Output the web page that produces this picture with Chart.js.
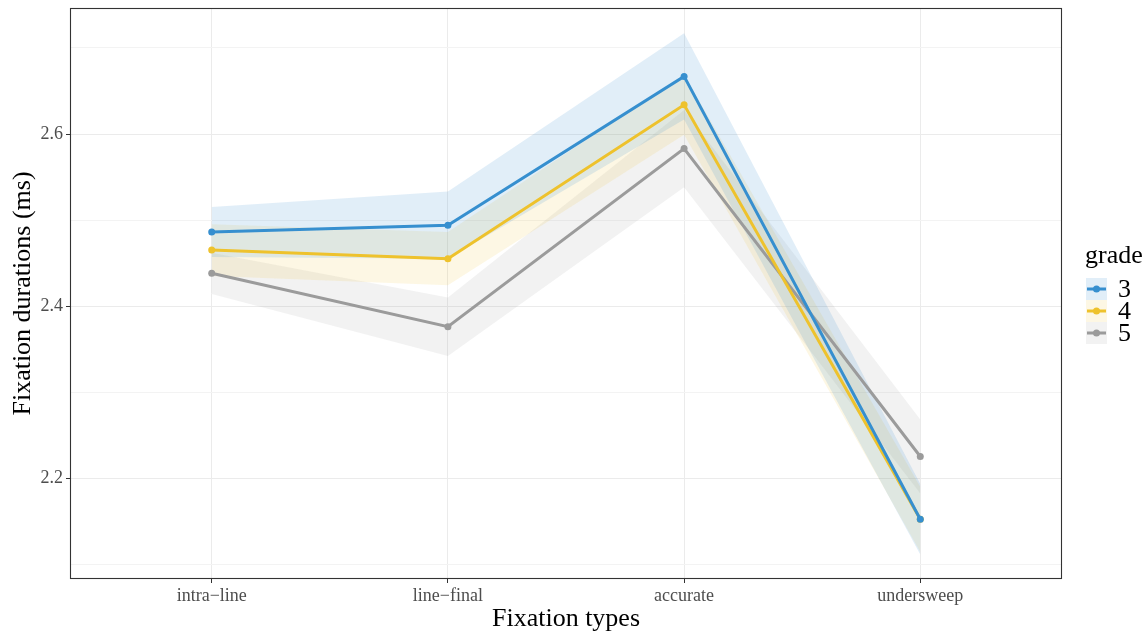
<!DOCTYPE html>
<html>
<head>
<meta charset="utf-8">
<script src="https://cdn.jsdelivr.net/npm/chart.js@4.4.1/dist/chart.umd.min.js"></script>
<style>
  html, body { margin: 0; padding: 0; background: #fff; }
  #wrap { width: 1148px; height: 635px; }
</style>
</head>
<body>
<div id="wrap"><canvas id="chart" width="1148" height="635"></canvas></div>
<script>
var categories = ['intra\u2212line', 'line\u2212final', 'accurate', 'undersweep'];
var grades = ['3', '4', '5'];

var grade3Mean = [2.486, 2.494, 2.667, 2.152];
var grade3Upper = [2.515, 2.533, 2.717, 2.193];
var grade3Lower = [2.457, 2.455, 2.617, 2.111];

var grade4Mean = [2.465, 2.455, 2.634, 2.152];
var grade4Upper = [2.495, 2.486, 2.669, 2.190];
var grade4Lower = [2.435, 2.424, 2.599, 2.114];

var grade5Mean = [2.438, 2.376, 2.583, 2.225];
var grade5Upper = [2.462, 2.410, 2.628, 2.268];
var grade5Lower = [2.414, 2.342, 2.538, 2.182];

var yMajorTicks = [2.2, 2.4, 2.6];
var yMinorTicks = [2.1, 2.3, 2.5, 2.7];

var lineColors = ['#368FCF', '#EEC22C', '#9B9B9B'];
var ribbonColors = ['rgba(54,143,207,0.15)', 'rgba(238,194,44,0.13)', 'rgba(150,150,150,0.12)'];

var serif = "'Liberation Serif', 'Times New Roman', serif";

function pts(arr) {
  return arr.map(function (v, i) { return { x: i, y: v }; });
}

var series = [
  { mean: grade3Mean, upper: grade3Upper, lower: grade3Lower },
  { mean: grade4Mean, upper: grade4Upper, lower: grade4Lower },
  { mean: grade5Mean, upper: grade5Upper, lower: grade5Lower }
];

var datasets = [];
series.forEach(function (s, k) {
  datasets.push({
    label: 'upper ' + grades[k], data: pts(s.upper),
    borderWidth: 0, pointRadius: 0, fill: '+1',
    backgroundColor: ribbonColors[k], borderColor: 'rgba(0,0,0,0)'
  });
  datasets.push({
    label: 'lower ' + grades[k], data: pts(s.lower),
    borderWidth: 0, pointRadius: 0, fill: false,
    borderColor: 'rgba(0,0,0,0)'
  });
});
series.forEach(function (s, k) {
  datasets.push({
    label: grades[k], data: pts(s.mean),
    borderColor: lineColors[k], backgroundColor: lineColors[k],
    borderWidth: 3, pointRadius: 3.5, pointBorderWidth: 0, fill: false
  });
});

var panelPlugin = {
  id: 'panel',
  afterDraw: function (chart) {
    var a = chart.chartArea, c = chart.ctx;
    c.save();
    c.strokeStyle = '#333333';
    c.lineWidth = 1.1;
    c.strokeRect(a.left + 0.5, a.top + 0.5, a.right - a.left - 1, a.bottom - a.top - 1);

    // legend
    c.fillStyle = '#000';
    c.font = '26px ' + serif;
    c.textAlign = 'left';
    c.textBaseline = 'middle';
    c.fillText('grade', 1085, 256);
    grades.forEach(function (g, k) {
      var y0 = 278 + k * 22;
      c.fillStyle = '#ffffff';
      c.fillRect(1086, y0, 21, 22);
      c.fillStyle = ribbonColors[k];
      c.fillRect(1086, y0, 21, 22);
      c.strokeStyle = lineColors[k];
      c.lineWidth = 3;
      c.beginPath();
      c.moveTo(1087, y0 + 11);
      c.lineTo(1106, y0 + 11);
      c.stroke();
      c.fillStyle = lineColors[k];
      c.beginPath();
      c.arc(1096.5, y0 + 11, 3.5, 0, Math.PI * 2);
      c.fill();
      c.fillStyle = '#000';
      c.font = '26px ' + serif;
      c.fillText(g, 1118, y0 + 12);
    });
    c.restore();
  }
};

new Chart(document.getElementById('chart').getContext('2d'), {
  type: 'line',
  data: { datasets: datasets },
  plugins: [panelPlugin],
  options: {
    responsive: false,
    animation: false,
    layout: { padding: { left: 0, right: 86, top: 8, bottom: 0 } },
    elements: { line: { tension: 0 } },
    plugins: {
      legend: { display: false },
      tooltip: { enabled: false },
      filler: { drawTime: 'beforeDatasetsDraw' }
    },
    scales: {
      x: {
        type: 'linear', min: -0.6, max: 3.6,
        afterBuildTicks: function (scale) {
          scale.ticks = categories.map(function (c, i) { return { value: i }; });
        },
        afterFit: function (scale) {
          scale.height = 56;
          scale.paddingLeft = 0; scale.paddingRight = 0;
        },
        border: { display: false },
        grid: { color: '#EBEBEB', lineWidth: 1, tickLength: 4, tickColor: '#333333' },
        ticks: {
          autoSkip: false, maxRotation: 0, padding: 2,
          color: '#4D4D4D', font: { family: serif, size: 18 },
          callback: function (v) { return categories[v]; }
        },
        title: {
          display: true, text: 'Fixation types', color: '#000',
          font: { family: serif, size: 26 }, padding: { top: 0, bottom: 0 }
        }
      },
      y: {
        type: 'linear', min: 2.0826, max: 2.7465,
        afterBuildTicks: function (scale) {
          scale.ticks = yMinorTicks.concat(yMajorTicks).sort().map(function (v) { return { value: v }; });
        },
        afterFit: function (scale) {
          scale.width = 70;
          scale.paddingTop = 0; scale.paddingBottom = 0;
        },
        border: { display: false },
        grid: {
          tickLength: 4,
          color: function (ctx) {
            return yMajorTicks.indexOf(Math.round(ctx.tick.value * 10) / 10) >= 0 ? '#EBEBEB' : '#F3F3F3';
          },
          tickColor: function (ctx) {
            return yMajorTicks.indexOf(Math.round(ctx.tick.value * 10) / 10) >= 0 ? '#333333' : 'rgba(0,0,0,0)';
          }
        },
        ticks: {
          autoSkip: false, padding: 3,
          color: '#4D4D4D', font: { family: serif, size: 18 },
          callback: function (v) {
            var r = Math.round(v * 10) / 10;
            return yMajorTicks.indexOf(r) >= 0 ? r.toFixed(1) : '';
          }
        },
        title: {
          display: true, text: 'Fixation durations (ms)', color: '#000',
          font: { family: serif, size: 26 }, padding: { top: 8, bottom: 0 }
        }
      }
    }
  }
});
</script>
</body>
</html>
